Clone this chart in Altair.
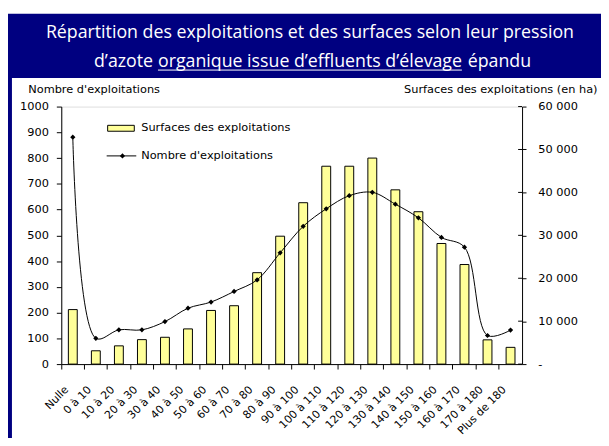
import altair as alt
import pandas as pd

categories = ["Nulle", "0 à 10", "10 à 20", "20 à 30", "30 à 40", "40 à 50", "50 à 60",
              "60 à 70", "70 à 80", "80 à 90", "90 à 100", "100 à 110", "110 à 120",
              "120 à 130", "130 à 140", "140 à 150", "150 à 160", "160 à 170",
              "170 à 180", "Plus de 180"]
surfaces_ha = [12700, 3100, 4250, 5700, 6250, 8200, 12500, 13600, 21300, 29800, 37600,
               46100, 46100, 48000, 40600, 35500, 28100, 23200, 5650, 3900]
nombre_exploitations = [881, 100, 133, 133, 165, 217, 241, 282, 327, 432, 535, 603, 654,
                        667, 621, 568, 492, 454, 111, 132]

title_line1 = "Répartition des exploitations et des surfaces selon leur pression"
title_line2 = ["d’azote", "organique issue d’effluents d’élevage", "épandu"]
left_title = "Nombre d'exploitations"
right_title = "Surfaces des exploitations (en ha)"
legend_labels = ["Surfaces des exploitations", "Nombre d'exploitations"]
left_ticks = list(range(0, 1001, 100))
right_ticks = list(range(0, 60001, 10000))

df = pd.DataFrame({"cat": categories, "surf": surfaces_ha, "nb": nombre_exploitations})
ticks_df = pd.DataFrame({"surf": right_ticks})

FONT = "DejaVu Sans"
TFONT = "Open Sans"
NAVY = "#000080"
W, H = 467, 261

x_enc = alt.X(
    "cat:N", sort=categories,
    scale=alt.Scale(paddingInner=0, paddingOuter=0),
    axis=alt.Axis(title=None, bandPosition=0, labelAngle=-45, labelAlign="right",
                  labelBaseline="middle", labelOffset=-6, labelPadding=19,
                  tickSize=5, labelFont=FONT, labelFontSize=11, labelColor="#000",
                  domainColor="#000", tickColor="#000", labelOverlap=False),
)

y_surf = alt.Y("surf:Q", scale=alt.Scale(domain=[0, 60000], nice=False),
               axis=alt.Axis(orient="right", values=right_ticks, grid=False,
                             title=right_title, titleAngle=0, titleX=76, titleY=-17,
                             titleAlign="right", titleBaseline="middle",
                             titleFont=FONT, titleFontSize=11.5, titleFontWeight="normal",
                             titleColor="#000", labelOverlap=False,
                             labelExpr="datum.value == 0 ? '-' : replace(format(datum.value, ','), ',', ' ')",
                             labelFont=FONT, labelFontSize=11.5, labelColor="#000",
                             labelPadding=12, tickSize=4, domainColor="#000", tickColor="#000"))

bars = alt.Chart(df).mark_bar(size=9, fill="#FFFF99", stroke="#000", strokeWidth=1).encode(
    x=x_enc, y=y_surf)
# inner half of the right axis ticks (the ticks cross the axis line)
inner_ticks = alt.Chart(ticks_df).mark_rule(color="#000", strokeWidth=1).encode(
    y=y_surf, x=alt.value(W - 4), x2=alt.value(W))
surf_layer = alt.layer(bars, inner_ticks)

y_nb = alt.Y("nb:Q", scale=alt.Scale(domain=[0, 1000], nice=False),
             axis=alt.Axis(orient="left", values=left_ticks, grid=False, format="d",
                           title=left_title, titleAngle=0, titleX=-34, titleY=-17,
                           titleAlign="left", titleBaseline="middle",
                           titleFont=FONT, titleFontSize=11.5, titleFontWeight="normal",
                           titleColor="#000", labelOverlap=False,
                           labelFont=FONT, labelFontSize=11.5, labelColor="#000",
                           labelPadding=8, tickSize=5, domainColor="#000", tickColor="#000"))

line = alt.Chart(df).mark_line(interpolate="catmull-rom", color="#000", strokeWidth=1).encode(
    x=alt.X("cat:N", sort=categories), y=y_nb)
points = alt.Chart(df).mark_point(shape="diamond", filled=True, color="#000", size=28, opacity=1).encode(
    x=alt.X("cat:N", sort=categories), y=y_nb)
nb_layer = alt.layer(line, points)

main = alt.layer(surf_layer, nb_layer).resolve_scale(y="independent")

# decorations: banner, border, title texts, legend
one = pd.DataFrame({"k": [0]})
banner = alt.Chart(one).mark_rect(color=NAVY).encode(
    x=alt.value(-54), x2=alt.value(W + 80), y=alt.value(-94), y2=alt.value(-29))
border = alt.Chart(one).mark_rect(color=NAVY).encode(
    x=alt.value(-54), x2=alt.value(-50), y=alt.value(-29), y2=alt.value(H + 80))

def txt(s, x, y, align):
    return alt.Chart(pd.DataFrame({"t": [s]})).mark_text(
        font=TFONT, fontSize=18, color="white", align=align, baseline="middle").encode(
        text="t:N", x=alt.value(x), y=alt.value(y))

t1 = txt(title_line1, 252, -75, "center")
t2a = txt(title_line2[0], 93, -45, "right")
t2b = txt(title_line2[1], 98, -45, "left")
t2c = txt(title_line2[2], 412, -45, "left")
underline = alt.Chart(one).mark_rule(color="white", strokeWidth=1).encode(
    x=alt.value(98), x2=alt.value(406), y=alt.value(-37))

leg_rect = alt.Chart(one).mark_rect(fill="#FFFF99", stroke="#000", strokeWidth=1).encode(
    x=alt.value(47), x2=alt.value(74), y=alt.value(19), y2=alt.value(25))
leg_line = alt.Chart(one).mark_rule(color="#000", strokeWidth=1).encode(
    x=alt.value(46), x2=alt.value(76), y=alt.value(50))
leg_pt = alt.Chart(one).mark_point(shape="diamond", filled=True, color="#000", size=28, opacity=1).encode(
    x=alt.value(62), y=alt.value(50))

def legtxt(s, y):
    return alt.Chart(pd.DataFrame({"t": [s]})).mark_text(
        font=FONT, fontSize=11.5, color="#000", align="left", baseline="middle").encode(
        text="t:N", x=alt.value(81), y=alt.value(y))

leg_t1 = legtxt(legend_labels[0], 22)
leg_t2 = legtxt(legend_labels[1], 50)

chart = alt.layer(
    banner, border, t1, t2a, t2b, t2c, underline, main,
    leg_rect, leg_line, leg_pt, leg_t1, leg_t2,
).resolve_scale(y="independent").properties(
    width=W, height=H,
    autosize=alt.AutoSizeParams(type="none"),
    padding={"left": 54, "top": 97, "right": 80, "bottom": 72},
).configure_view(stroke=None).configure(background="white")

chart.save("out.html", embed_options={"renderer": "svg", "actions": False})
